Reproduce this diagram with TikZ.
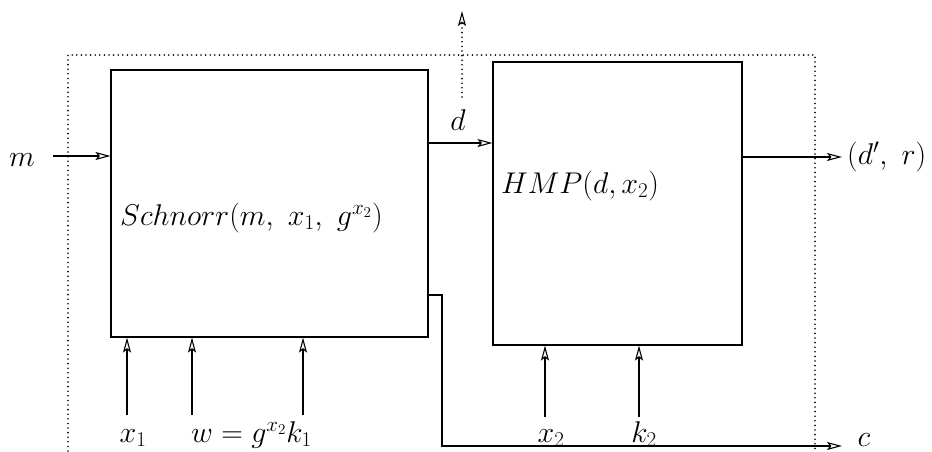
\RequirePackage{fix-cm}
\documentclass[tikz,border=0pt]{standalone}
\usetikzlibrary{arrows.meta}
\begin{document}
\begin{tikzpicture}[x=1pt,y=-1pt,
  tipo/.tip={Stealth[open,length=15pt,width=8pt,inset=3pt,line width=1.1pt]},
  blk/.style={draw,line width=1.1pt,inner sep=0pt},
  conn/.style={line width=1.1pt,-tipo},
  dotln/.style={line width=1.8pt,line cap=round,dash pattern=on 0pt off 4.6pt},
  lbl/.style={inner sep=0pt,font=\fontsize{30}{35}\selectfont}]
\useasboundingbox (0,0) rectangle (932,451);
% frame
\draw[dotln] (68,451) -- (68,55) -- (815,55) -- (815,451);
% blocks
\node[blk,minimum width=317pt,minimum height=267pt] (b1) at (269.5,203.5) {};
\node[blk,minimum width=249pt,minimum height=283pt] (b2) at (617.5,203.5) {};
\node[lbl,anchor=base west] (t1) at (120,225) {$Schnorr(m,\ x_1,\ g^{x_2})$};
\node[lbl,anchor=base west] (t2) at (501,193) {$HMP(d,x_2)$};
% m input
\node[lbl,anchor=base] (lm) at (22,166) {$m$};
\coordinate (ms) at (53,156);
\draw[conn] (ms) -- (ms -| b1.west);
% d
\node[lbl,anchor=base] (ld) at (458,130) {$d$};
\coordinate (ds) at (428,143);
\draw[conn] (ds) -- (ds -| b2.west);
% dotted up arrow
\coordinate (us) at (462,97);
\coordinate (ue) at (462,11);
\draw[dotln,-tipo] (us) -- (ue);
% output
\coordinate (os) at (742,157);
\coordinate (oe) at (842,157);
\draw[conn] (os) -- (oe);
\node[lbl,anchor=west] (lo) at (847,157) {$(d',\ r)$};
% bottom inputs block 1
\node[lbl,anchor=base] (lx1) at (133,442) {$x_1$};
\node[lbl,anchor=base west] (lw) at (191,442) {$w=g^{x_2}k_1$};
\coordinate (a1) at (127,415);
\coordinate (a2) at (192,415);
\coordinate (a3) at (303,415);
\draw[conn] (a1) -- (a1 |- b1.south);
\draw[conn] (a2) -- (a2 |- b1.south);
\draw[conn] (a3) -- (a3 |- b1.south);
% bottom inputs block 2
\node[lbl,anchor=base] (lx2) at (551,442) {$x_2$};
\node[lbl,anchor=base] (lk2) at (644,442) {$k_2$};
\coordinate (a4) at (545,417);
\coordinate (a5) at (639,417);
\draw[conn] (a4) -- (a4 |- b2.south);
\draw[conn] (a5) -- (a5 |- b2.south);
% c output
\coordinate (cs) at (428,295);
\coordinate (ce) at (842,446);
\draw[conn] (cs) -- (442,295) -- (442,446) -- (ce);
\node[lbl,anchor=base] (lc) at (864,446) {$c$};
\end{tikzpicture}
\end{document}
